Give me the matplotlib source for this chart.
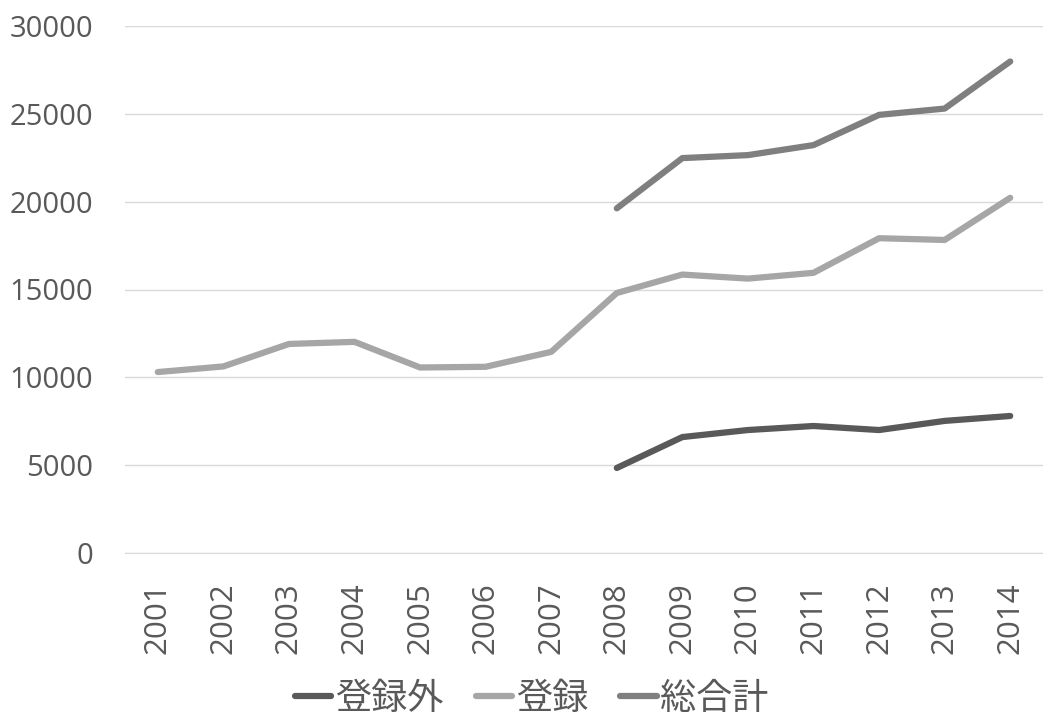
import matplotlib
matplotlib.use("Agg")
from matplotlib import pyplot as plt
import numpy as np

years = ["2001", "2002", "2003", "2004", "2005", "2006", "2007",
         "2008", "2009", "2010", "2011", "2012", "2013", "2014"]
# 登録外 / 総合計 only start in 2008
unregistered = [None] * 7 + [4840, 6600, 7000, 7230, 7000, 7520, 7800]
registered = [10300, 10620, 11900, 12020, 10560, 10600, 11450,
              14800, 15850, 15620, 15950, 17920, 17820, 20220]
total = [None] * 7 + [19620, 22480, 22650, 23220, 24940, 25300, 27980]

series_names = ["登録外", "登録", "総合計"]
series_colors = ["#595959", "#a6a6a6", "#7f7f7f"]

plt.rcParams['font.family'] = ['Noto Sans CJK JP', 'DejaVu Sans']

fig = plt.figure(figsize=(10.43, 7.23), dpi=100)
ax = fig.add_axes([125 / 1043, 1 - 553 / 723, 918 / 1043, (553 - 26) / 723])

x = np.arange(len(years))
for name, vals, col in zip(series_names, [unregistered, registered, total], series_colors):
    y = np.array([np.nan if v is None else v for v in vals], dtype=float)
    ax.plot(x, y, color=col, lw=4.5, solid_capstyle='round', solid_joinstyle='round', label=name)

ax.set_xlim(-0.5, len(years) - 0.5)
ax.set_ylim(0, 30000)
ax.set_yticks(range(0, 30001, 5000))
ax.set_xticks(x)
ax.set_xticklabels(years, rotation=90)
ax.tick_params(axis='both', length=0, colors='#595959')
ax.tick_params(axis='x', pad=21)
ax.tick_params(axis='y', pad=23)
for lbl in ax.get_xticklabels():
    lbl.set_family('Open Sans')
    lbl.set_fontsize(22.5)
for lbl in ax.get_yticklabels():
    lbl.set_family('Open Sans')
    lbl.set_fontsize(21)
ax.grid(axis='y', color='#d9d9d9', lw=1)
for s in ['top', 'right', 'left']:
    ax.spines[s].set_visible(False)
ax.spines['bottom'].set_color('#d9d9d9')

leg = fig.legend(loc='center', bbox_to_anchor=(0.51, 1 - 699 / 723), ncol=3, frameon=False,
                 fontsize=26, handlelength=1.0, handletextpad=0.1, columnspacing=0.9,
                 labelcolor='#595959')

fig.savefig("out.png", dpi=100)
